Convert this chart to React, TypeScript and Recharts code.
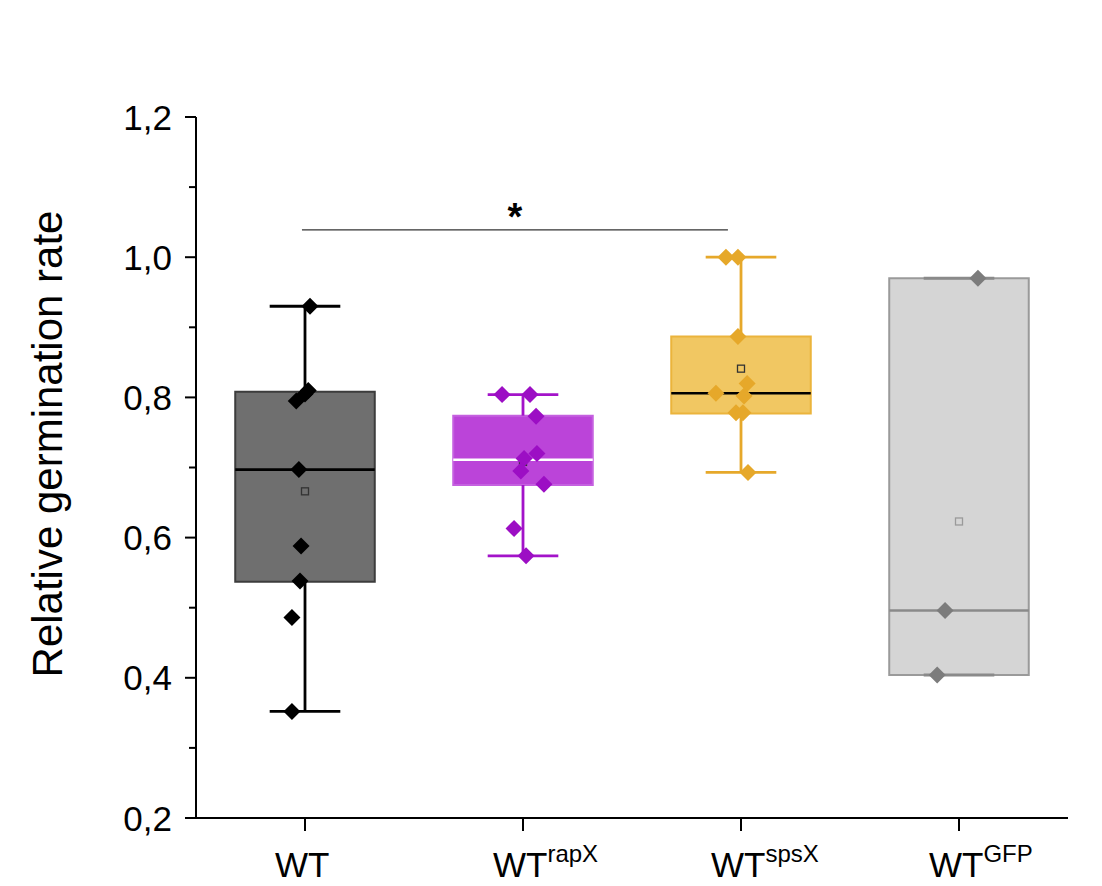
import React from 'react';
import { ComposedChart, XAxis, YAxis, Scatter, ReferenceArea, ReferenceLine } from 'recharts';

// ---- data ----
const categories = ['WT', 'WT', 'WT', 'WT'];
const superscripts = ['', 'rapX', 'spsX', 'GFP'];
const categoryPos = [1, 2, 3, 4];

const boxMin = [0.352, 0.574, 0.693, 0.404];
const boxQ1 = [0.537, 0.675, 0.777, 0.404];
const boxMedian = [0.697, 0.711, 0.806, 0.496];
const boxQ3 = [0.808, 0.774, 0.887, 0.97];
const boxMax = [0.93, 0.804, 1.0, 0.97];
const boxMean = [0.666, 0.708, 0.841, 0.623];

const wtValues = [0.93, 0.81, 0.805, 0.795, 0.697, 0.588, 0.538, 0.486, 0.352];
const wtJitter = [0.023, 0.015, 0.0, -0.04, -0.028, -0.018, -0.023, -0.06, -0.06];
const rapValues = [0.804, 0.804, 0.773, 0.72, 0.713, 0.695, 0.676, 0.613, 0.574];
const rapJitter = [-0.096, 0.032, 0.06, 0.064, 0.005, -0.01, 0.096, -0.041, 0.014];
const spsValues = [1.0, 1.0, 0.887, 0.82, 0.806, 0.802, 0.778, 0.778, 0.693];
const spsJitter = [-0.069, -0.014, -0.014, 0.028, -0.115, 0.014, -0.023, 0.009, 0.032];
const gfpValues = [0.97, 0.496, 0.404];
const gfpJitter = [0.087, -0.064, -0.1];

const yTicks = [0.2, 0.3, 0.4, 0.5, 0.6, 0.7, 0.8, 0.9, 1.0, 1.1, 1.2];
const xTicks = [1, 2, 3, 4];

const sigStart = 0.986;
const sigEnd = 2.94;
const sigY = 1.039;

// ---- styles ----
const FONT = '"Liberation Sans", Arial, Helvetica, sans-serif';
const boxFill = ['#6f6f6f', '#bb44d9', '#f1c762', '#d5d5d5'];
const boxStroke = ['#3c3c3c', '#c560e0', '#ebb43c', '#9a9a9a'];
const medianColor = ['#000000', '#ffffff', '#000000', '#8a8a8a'];
const whiskerColor = ['#000000', '#a313c9', '#e6a82a', '#8a8a8a'];
const pointColor = ['#000000', '#9c0ec4', '#e6a82a', '#7c7c7c'];
const meanStroke = ['#333333', '#333333', '#333333', '#9a9a9a'];
const BOX_HALF = 0.32;
const CAP_HALF = 0.162;

const toPoints = (vals: number[], jit: number[], c: number) =>
  vals.map((v, i) => ({ x: c + jit[i], y: v }));

const pointSets = [
  toPoints(wtValues, wtJitter, categoryPos[0]),
  toPoints(rapValues, rapJitter, categoryPos[1]),
  toPoints(spsValues, spsJitter, categoryPos[2]),
  toPoints(gfpValues, gfpJitter, categoryPos[3]),
];

const Diamond = (props: any) => {
  const { cx, cy, fill } = props;
  const h = 8.5;
  if (cx == null || cy == null) return null;
  return <polygon points={`${cx},${cy - h} ${cx + h},${cy} ${cx},${cy + h} ${cx - h},${cy}`} fill={fill} />;
};

const MeanSquare = (props: any) => {
  const { cx, cy, stroke } = props;
  if (cx == null || cy == null) return null;
  return <rect x={cx - 3.5} y={cy - 3.5} width={7} height={7} fill="none" stroke={stroke} strokeWidth={1.3} />;
};

const YTick = (props: any) => {
  const { x, y, payload } = props;
  const v = payload.value as number;
  const major = Math.round(v * 10) % 2 === 0;
  return (
    <g>
      <line x1={x - (major ? 11 : 7)} y1={y} x2={x} y2={y} stroke="#000" strokeWidth={2} />
      {major && (
        <text x={x - 24} y={y} dy="0.36em" textAnchor="end" fontSize={35} fontFamily={FONT} fill="#000">
          {v.toFixed(1).replace('.', ',')}
        </text>
      )}
    </g>
  );
};

const XTick = (props: any) => {
  const { x, y, payload } = props;
  const i = xTicks.indexOf(payload.value);
  return (
    <g>
      <line x1={x} y1={y} x2={x} y2={y + 13} stroke="#000" strokeWidth={2} />
      <text x={x - 30} y={y + 59} textAnchor="start" fontSize={35} fontFamily={FONT} fill="#000">
        <tspan>{categories[i]}</tspan>
        {superscripts[i] && (
          <tspan fontSize={24} dy={-15}>
            {superscripts[i]}
          </tspan>
        )}
      </text>
    </g>
  );
};

export default function App() {
  return (
    <div style={{ position: 'absolute', left: 0, top: 0, width: 1102, height: 886, background: '#fff' }}>
      <ComposedChart width={1102} height={886} margin={{ top: 117, right: 34, bottom: 0, left: 0 }}>
        <XAxis
          type="number"
          dataKey="x"
          domain={[0.5, 4.5]}
          ticks={xTicks}
          interval={0}
          tickSize={0}
          tickMargin={0}
          tickLine={false}
          height={68}
          allowDataOverflow
          axisLine={{ stroke: '#000', strokeWidth: 2 }}
          tick={<XTick />}
        />
        <YAxis
          type="number"
          dataKey="y"
          domain={[0.2, 1.2]}
          ticks={yTicks}
          interval={0}
          tickSize={0}
          tickMargin={0}
          tickLine={false}
          width={196}
          allowDataOverflow
          axisLine={{ stroke: '#000', strokeWidth: 2 }}
          tick={<YTick />}
        />
        {categoryPos.map((c, i) => (
          <ReferenceArea
            key={`box-${i}`}
            x1={c - BOX_HALF}
            x2={c + BOX_HALF}
            y1={boxQ1[i]}
            y2={boxQ3[i]}
            fill={boxFill[i]}
            fillOpacity={1}
            stroke={boxStroke[i]}
            strokeWidth={2}
            ifOverflow="visible"
          />
        ))}
        {categoryPos.map((c, i) =>
          boxMax[i] > boxQ3[i] ? (
            <ReferenceLine key={`wu-${i}`} segment={[{ x: c, y: boxQ3[i] }, { x: c, y: boxMax[i] }]} stroke={whiskerColor[i]} strokeWidth={2.8} ifOverflow="visible" />
          ) : null
        )}
        {categoryPos.map((c, i) =>
          boxMin[i] < boxQ1[i] ? (
            <ReferenceLine key={`wl-${i}`} segment={[{ x: c, y: boxMin[i] }, { x: c, y: boxQ1[i] }]} stroke={whiskerColor[i]} strokeWidth={2.8} ifOverflow="visible" />
          ) : null
        )}
        {categoryPos.map((c, i) => (
          <ReferenceLine key={`cu-${i}`} segment={[{ x: c - CAP_HALF, y: boxMax[i] }, { x: c + CAP_HALF, y: boxMax[i] }]} stroke={whiskerColor[i]} strokeWidth={2.8} ifOverflow="visible" />
        ))}
        {categoryPos.map((c, i) => (
          <ReferenceLine key={`cl-${i}`} segment={[{ x: c - CAP_HALF, y: boxMin[i] }, { x: c + CAP_HALF, y: boxMin[i] }]} stroke={whiskerColor[i]} strokeWidth={2.8} ifOverflow="visible" />
        ))}
        {categoryPos.map((c, i) => (
          <ReferenceLine key={`md-${i}`} segment={[{ x: c - BOX_HALF, y: boxMedian[i] }, { x: c + BOX_HALF, y: boxMedian[i] }]} stroke={medianColor[i]} strokeWidth={2.6} ifOverflow="visible" />
        ))}
        <ReferenceLine
          segment={[{ x: sigStart, y: sigY }, { x: sigEnd, y: sigY }]}
          stroke="#333"
          strokeWidth={1.3}
          ifOverflow="visible"
          label={{ value: '*', position: 'top', offset: 0, fontSize: 38, fontWeight: 'bold', fill: '#000', fontFamily: FONT }}
        />
        {categoryPos.map((c, i) => (
          <Scatter
            key={`mean-${i}`}
            data={[{ x: c, y: boxMean[i] }]}
            stroke={meanStroke[i]}
            shape={<MeanSquare />}
            isAnimationActive={false}
          />
        ))}
        {pointSets.map((pts, i) => (
          <Scatter key={`pts-${i}`} data={pts} fill={pointColor[i]} shape={<Diamond />} isAnimationActive={false} />
        ))}
        <text x={62} y={444} transform="rotate(-90 62 444)" textAnchor="middle" fontSize={42} fontFamily={FONT} fill="#000">
          Relative germination rate
        </text>
      </ComposedChart>
    </div>
  );
}
